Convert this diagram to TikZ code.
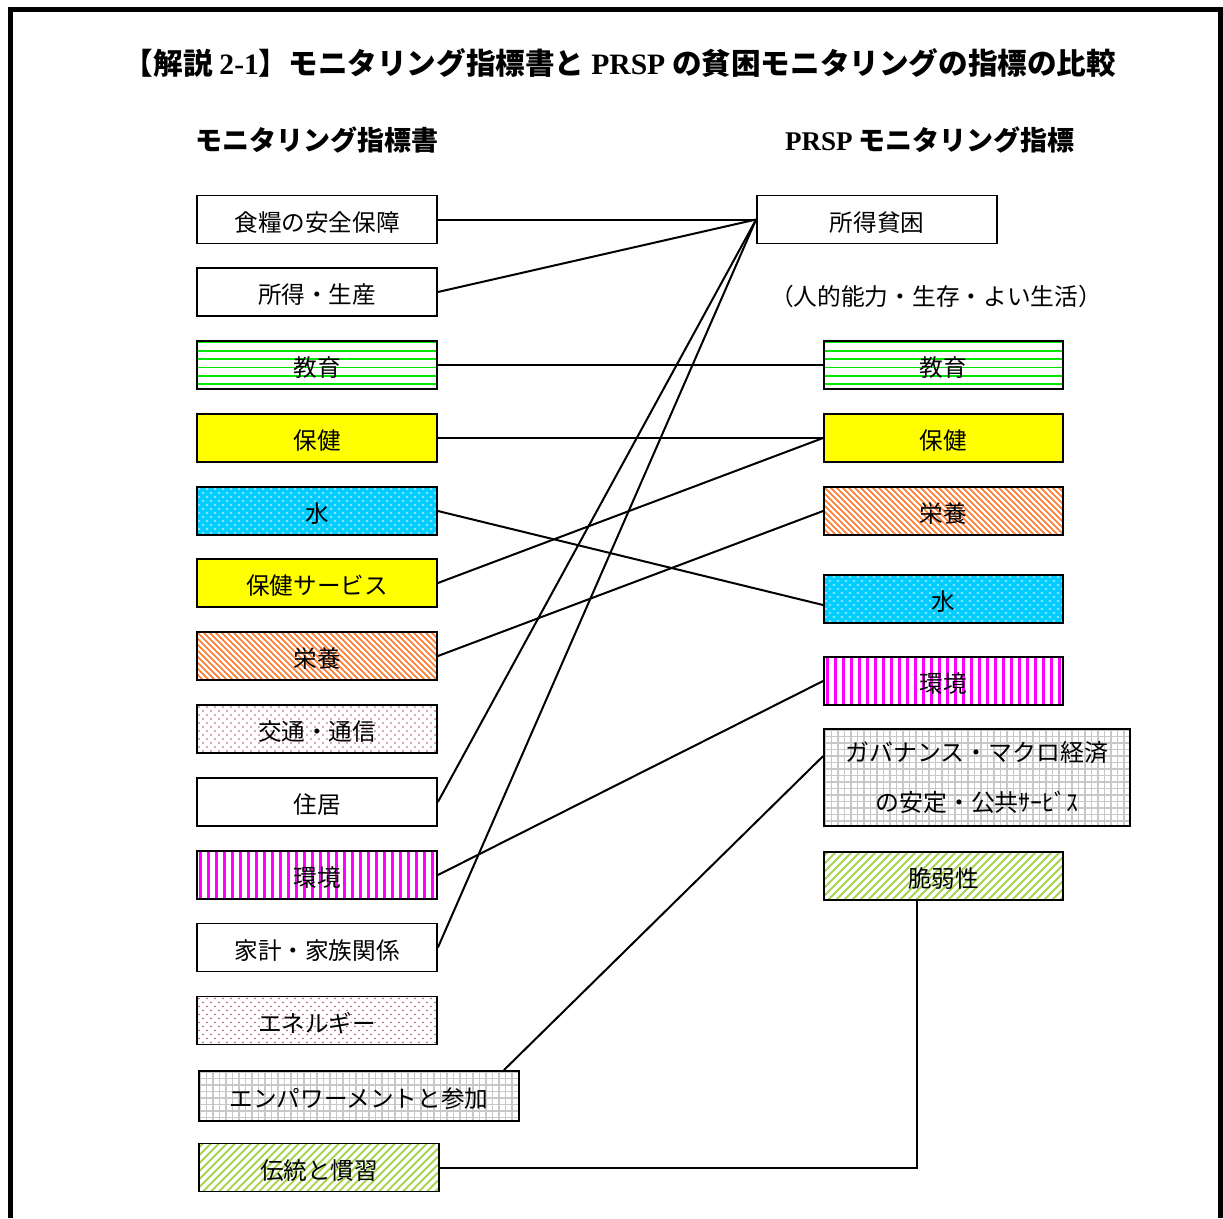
\documentclass[tikz,border=0pt]{standalone}
\usepackage{fontspec}
\setmainfont{Noto Sans CJK JP}
\newfontfamily\tms{Liberation Serif}
\definecolor{watercol}{RGB}{0,204,255}
\definecolor{eduline}{RGB}{0,230,0}
\definecolor{nutline}{RGB}{255,120,40}
\definecolor{envline}{RGB}{255,0,255}
\definecolor{dotcol}{RGB}{180,70,130}
\definecolor{gridcol}{RGB}{200,200,200}
\definecolor{vulline}{RGB}{165,212,80}
\definecolor{healthcol}{RGB}{255,255,0}
\tikzset{
  basebox/.style={draw, line width=1.8pt, minimum width=240pt, minimum height=48pt, inner sep=0pt,
    font=\fontsize{23.6}{27}\selectfont, fill=white},
  box/.style={basebox, text height=24pt, text depth=1pt},
  plainbox/.style={box},
  edubox/.style={box, path picture={
      \foreach \k in {0,...,6}
        \draw[eduline, line width=1.7pt] ([yshift=-1.5pt-\k*8.3pt]path picture bounding box.north west) -- ++(340pt,0);}},
  healthbox/.style={box, fill=healthcol},
  waterbox/.style={box, fill=watercol, path picture={
      \foreach \j in {0,...,12} \foreach \i in {0,...,30}
        \fill[white] ([xshift={\i*8pt+mod(\j,2)*4pt+2pt}, yshift={-\j*4pt-2pt}]path picture bounding box.north west)
          ellipse [x radius=1.6pt, y radius=0.65pt];}},
  nutbox/.style={box, path picture={
      \foreach \k in {0,...,50}
        \draw[nutline, line width=1.5pt] ([xshift=\k*6pt-60pt]path picture bounding box.north west) -- ++(120pt,-120pt);}},
  dotbox/.style={box, path picture={
      \foreach \j in {0,...,12} \foreach \i in {0,...,30}
        \fill[dotcol] ([xshift={\i*8pt+mod(\j,2)*4pt+2pt}, yshift={-\j*4pt-2pt}]path picture bounding box.north west)
          circle [radius=0.9pt];}},
  envbox/.style={box, path picture={
      \foreach \k in {0,...,30}
        \draw[envline, line width=3pt] ([xshift=3pt+\k*8pt]path picture bounding box.north west) -- ++(0,-120pt);}},
  gridpat/.style={path picture={
      \foreach \k in {0,...,50}
        \draw[gridcol, line width=1.5pt] ([xshift=1pt+\k*6.5pt]path picture bounding box.north west) -- ++(0,-120pt);
      \foreach \k in {0,...,16}
        \draw[gridcol, line width=1.5pt] ([yshift=-1pt-\k*6.5pt]path picture bounding box.north west) -- ++(340pt,0);}},
  gridbox/.style={box, gridpat},
  vulbox/.style={box, path picture={
      \foreach \k in {0,...,45}
        \draw[vulline, line width=2pt] ([xshift=\k*8pt-60pt]path picture bounding box.south west) -- ++(120pt,120pt);}},
  link/.style={line width=2pt},
  heading/.style={font=\bfseries\fontsize{27}{32}\selectfont, inner sep=0pt},
}
\begin{document}
\begin{tikzpicture}[x=1pt,y=1pt]
\useasboundingbox (0,0) rectangle (1223,-1218);
% frame
\draw[line width=5pt] (10.5,-1218) -- (10.5,-9.5) -- (1220.5,-9.5) -- (1220.5,-1218);

% title and headings
\node[font=\bfseries\fontsize{29.6}{34}\selectfont, inner sep=0pt] (title) at (620,-63)
  {【解説 {\tms\bfseries 2-1}】モニタリング指標書と {\tms\bfseries PRSP} の貧困モニタリングの指標の比較};
\node[heading] (hl) at (317,-140) {モニタリング指標書};
\node[heading] (hr) at (930,-140) {{\tms\bfseries PRSP} モニタリング指標};
\node[font=\fontsize{23.7}{28}\selectfont, inner sep=0pt] (note) at (936,-296) {（人的能力・生存・よい生活）};

% left column
\node[plainbox]  (food)  at (317,-219.5) {食糧の安全保障};
\node[plainbox]  (inc)   at (317,-292)   {所得・生産};
\node[edubox]    (edu)   at (317,-365)   {教育};
\node[healthbox] (hea)   at (317,-438)   {保健};
\node[waterbox]  (wat)   at (317,-511)   {水};
\node[healthbox] (hsv)   at (317,-583)   {保健サービス};
\node[nutbox]    (nut)   at (317,-656)   {栄養};
\node[dotbox]    (tra)   at (317,-729)   {交通・通信};
\node[plainbox]  (hou)   at (317,-802)   {住居};
\node[envbox]    (env)   at (317,-875)   {環境};
\node[plainbox]  (fam)   at (317,-947.5) {家計・家族関係};
\node[dotbox]    (ene)   at (317,-1020.5){エネルギー};
\node[gridbox, minimum width=320pt, minimum height=50pt] (emp) at (359,-1096) {エンパワーメントと参加};
\node[vulbox]    (tru)   at (319,-1167.5){伝統と慣習};

% right column
\node[plainbox]  (pov)   at (877,-219.5) {所得貧困};
\node[edubox, minimum width=239pt]    (eduR) at (943.5,-365) {教育};
\node[healthbox, minimum width=239pt] (heaR) at (943.5,-438) {保健};
\node[nutbox, minimum width=239pt]    (nutR) at (943.5,-511) {栄養};
\node[waterbox, minimum width=239pt]  (watR) at (943.5,-599) {水};
\node[envbox, minimum width=239pt]    (envR) at (943.5,-681) {環境};
\node[basebox, gridpat, minimum width=306pt, minimum height=97pt, align=center,
      font=\fontsize{23.9}{50}\selectfont] (gov) at (977,-777.5)
      {\raisebox{-3pt}{ガバナンス・マクロ経済}\\\raisebox{-3pt}{の安定・公共ｻｰﾋﾞｽ}};
\node[vulbox, minimum width=239pt]    (vul)  at (943.5,-876) {脆弱性};

% connectors
\draw[link] (food.east) -- (pov.west);
\draw[link] (inc.east) -- (pov.west);
\draw[link] (hou.east) -- (pov.west);
\draw[link] (fam.east) -- (pov.west);
\draw[link] (edu.east) -- (eduR.west);
\draw[link] (hea.east) -- (heaR.west);
\draw[link] (hsv.east) -- (heaR.west);
\draw[link] (wat.east) -- ([yshift=-6pt]watR.west);
\draw[link] (nut.east) -- (nutR.west);
\draw[link] (env.east) -- (envR.west);
\draw[link] ([xshift=-16pt]emp.north east) -- ([yshift=-28pt]gov.north west);
\draw[link] ([xshift=-26.5pt]vul.south) |- (tru.east);
\end{tikzpicture}
\end{document}
